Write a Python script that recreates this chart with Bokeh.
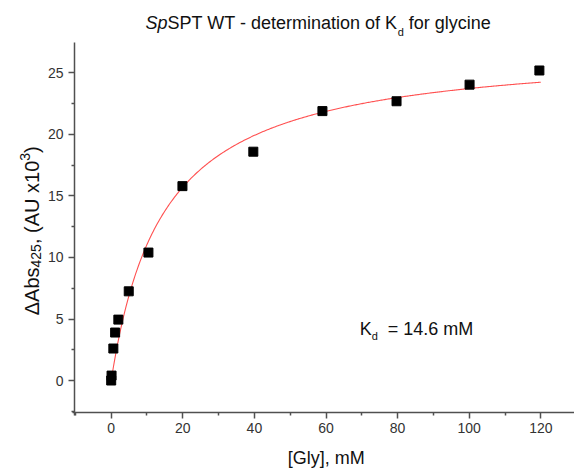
import numpy as np
from bokeh.plotting import figure
from bokeh.models import Range1d, FixedTicker, Label
from bokeh.embed import file_html
from bokeh.resources import INLINE

# Data
gly_mM = [0.0, 0.1, 0.6, 1.1, 2.0, 4.9, 10.4, 19.9, 39.7, 59.0, 79.7, 100.1, 119.6]
dabs = [0.0, 0.4, 2.6, 3.9, 4.95, 7.25, 10.4, 15.8, 18.6, 21.9, 22.7, 24.05, 25.2]

# Hyperbolic fit parameters
kd = 14.6
bmax = 27.2

x_ticks = [0, 20, 40, 60, 80, 100, 120]
x_minor = [-10, 10, 30, 50, 70, 90, 110]
y_ticks = [0, 5, 10, 15, 20, 25]
y_minor = [-2.5, 2.5, 7.5, 12.5, 17.5, 22.5]

# axis extents (data units)
x_axis_min, x_axis_max = -10.25, 129.4
y_axis_min, y_axis_max = -2.6, 27.48

FONT = "Liberation Sans"
TXT = "#111111"

# pixel scale of the frame (px per data unit) used for text placement only
PX_X = 3.58
PX_Y = 12.3

p = figure(width=574, height=474, output_backend="svg", toolbar_location=None,
           x_range=Range1d(-30.92, 129.41), y_range=Range1d(-7.64, 30.89),
           min_border=0, min_border_left=0, min_border_right=0,
           min_border_top=0, min_border_bottom=0)
p.title.visible = False
p.outline_line_color = None
p.grid.visible = False
p.background_fill_color = "white"
p.border_fill_color = "white"

p.xaxis.fixed_location = y_axis_min
p.xaxis.bounds = (x_axis_min - 0.5, x_axis_max)
p.yaxis.fixed_location = x_axis_min
p.yaxis.bounds = (y_axis_min - 0.25, y_axis_max)

for ax, ticks, minor in ((p.xaxis, x_ticks, x_minor), (p.yaxis, y_ticks, y_minor)):
    ax.ticker = FixedTicker(ticks=ticks, minor_ticks=minor)
    ax.axis_line_color = "#505050"
    ax.axis_line_width = 1.5
    ax.major_tick_line_color = "#505050"
    ax.major_tick_line_width = 1.5
    ax.minor_tick_line_color = "#505050"
    ax.minor_tick_line_width = 1.5
    ax.major_tick_in = 0
    ax.major_tick_out = 6
    ax.minor_tick_in = 0
    ax.minor_tick_out = 3
    ax.major_label_text_font = FONT
    ax.major_label_text_font_size = "14px"
    ax.major_label_text_color = "#333333"

# fitted curve
xc = np.linspace(0, 120, 400)
yc = bmax * xc / (kd + xc)
p.line(xc, yc, line_color="#ff5050", line_width=1.1)

p.scatter(gly_mM, dabs, marker="square", size=9, fill_color="black", line_color="black")

# X axis title
p.add_layout(Label(x=60.1, y=-6.3, text="[Gly], mM", text_font=FONT,
                   text_font_size="18px", text_align="center", text_baseline="middle", text_color=TXT))

# Y axis title, rotated, built from pieces (subscript 425, superscript 3)
ylab_x = -22.25         # baseline position (data x)
ylab_y0 = 5.3           # start of text (data y)
pieces = [("ΔAbs", 20, 0, 47.8), ("425", 14, 4, 23.4), (", (AU x10", 20, 0, 83.4),
          ("3", 14, -7, 7.8), (")", 20, 0, 6.7)]
cur = ylab_y0
for txt, size, shift, length in pieces:
    p.add_layout(Label(x=ylab_x + shift / PX_X, y=cur, angle=np.pi / 2, text=txt, text_font=FONT,
                       text_font_size=f"{size}px", text_align="left", text_baseline="alphabetic",
                       text_color=TXT))
    cur += length / PX_Y

# Title built from pieces (italic Sp, subscript d)
ty = 28.21
tx = 9.6
fs = 18
p.add_layout(Label(x=tx, y=ty, text="Sp", text_font=FONT, text_font_style="italic",
                   text_font_size=f"{fs}px", text_color=TXT))
p.add_layout(Label(x=tx, y=ty, x_offset=22.0, text="SPT WT - determination of K", text_font=FONT,
                   text_font_size=f"{fs}px", text_color=TXT))
p.add_layout(Label(x=tx, y=ty - 0.36, x_offset=252.1, text="d", text_font=FONT,
                   text_font_size="11px", text_color=TXT))
p.add_layout(Label(x=tx, y=ty, x_offset=263.2, text="for glycine", text_font=FONT,
                   text_font_size=f"{fs}px", text_color=TXT))

# Kd annotation
ky = 3.41
kx = 69.4
kfs = 18
p.add_layout(Label(x=kx, y=ky, text="K", text_font=FONT, text_font_size=f"{kfs}px", text_color=TXT))
p.add_layout(Label(x=kx, y=ky - 0.32, x_offset=12.2, text="d", text_font=FONT, text_font_size="11px",
                   text_color=TXT))
p.add_layout(Label(x=kx, y=ky, x_offset=28.0, text="= 14.6 mM", text_font=FONT,
                   text_font_size=f"{kfs}px", text_color=TXT))

open("out.html", "w").write(file_html(p, INLINE))
